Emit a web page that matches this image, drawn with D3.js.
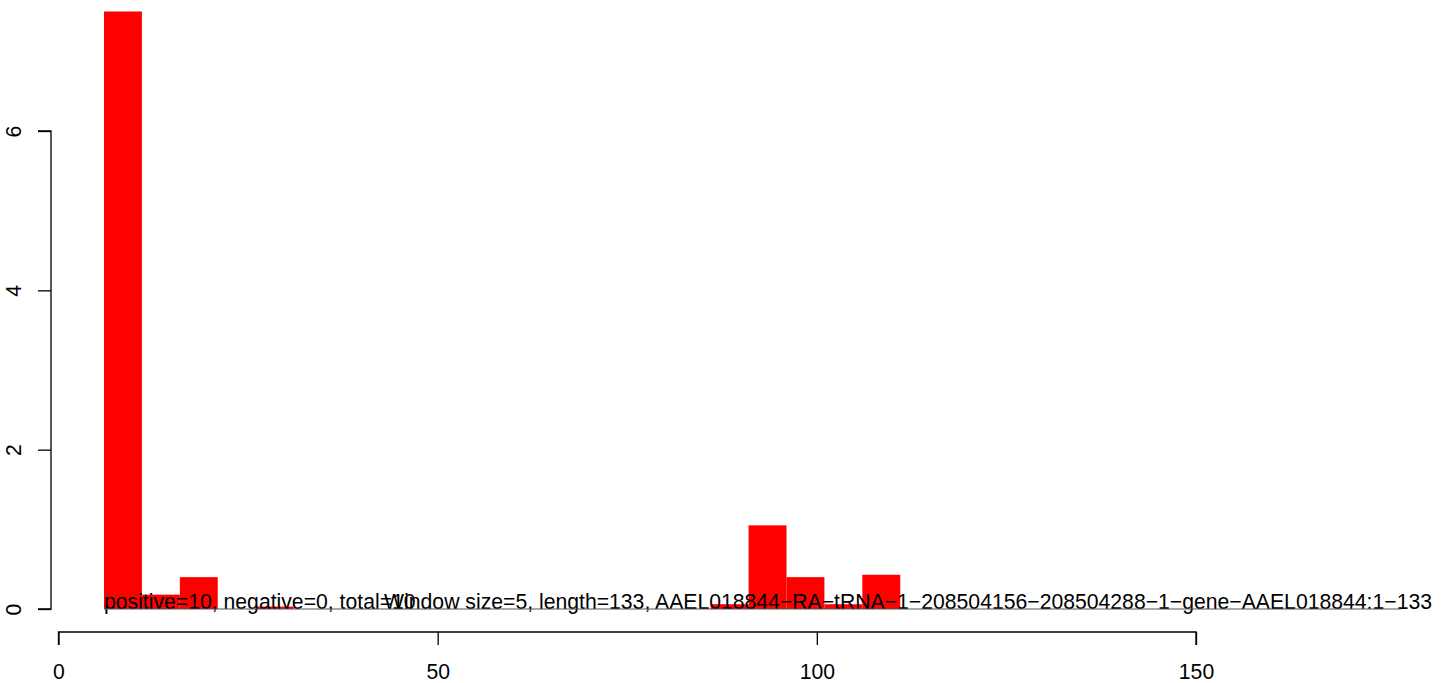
<!DOCTYPE html>
<html>
<head>
<meta charset="utf-8">
<script src="https://cdn.jsdelivr.net/npm/d3@7"></script>
<style>
  html, body { margin: 0; padding: 0; background: #fff; }
  svg { display: block; }
  text { font-family: "Liberation Sans", Arial, sans-serif; }
</style>
</head>
<body>
<script>
// ---- data ----
const binStart = 6;            // x position of first window
const binWidth = 5;            // window size
const values = [7.50, 0.18, 0.40, 0, 0.03, 0, 0, 0, 0, 0, 0, 0, 0, 0, 0, 0,
                0.06, 1.05, 0.40, 0.06, 0.43];
const xTicks = [0, 50, 100, 150];
const yTicks = [0, 2, 4, 6];
const baseLineEnd = 177;
const statText = "positive=10, negative=0, total=10";
const titleText = "Window size=5, length=133, AAEL018844\u2212RA\u2212tRNA\u22121\u2212208504156\u2212208504288\u22121\u2212gene\u2212AAEL018844:1\u2212133";

// ---- layout ----
const W = 1455, H = 683;
const FS = 21.2;
const svg = d3.select("body").append("svg").attr("width", W).attr("height", H);

const x = d3.scaleLinear().domain([0, 150]).range([58.5, 1196]);
const y = d3.scaleLinear().domain([0, 6]).range([609, 131]);

// bars
svg.append("g").selectAll("rect").data(values).enter().append("rect")
  .attr("x", (d, i) => x(binStart + i * binWidth))
  .attr("width", (d, i) => x(binStart + (i + 1) * binWidth) - x(binStart + i * binWidth))
  .attr("y", d => y(d))
  .attr("height", d => y(0) - y(d))
  .attr("fill", "#ff0000");

// x axis
const xAxis = d3.axisBottom(x).tickValues(xTicks).tickSize(13).tickPadding(19).tickFormat(d3.format("d"));
const gx = svg.append("g").attr("transform", "translate(0,632)").call(xAxis);
gx.select(".domain").attr("stroke", "#000").attr("stroke-width", 1.3).attr("d", `M${x(0)},13V0H${x(150)}V13`);
gx.selectAll(".tick line").attr("stroke", "#000").attr("stroke-width", 1.3);
gx.selectAll(".tick text").attr("font-size", FS).attr("fill", "#000")
  .attr("font-family", "'Liberation Sans', Arial, sans-serif");

// y axis
const yAxis = d3.axisLeft(y).tickValues(yTicks).tickSize(13).tickPadding(0).tickFormat(d3.format("d"));
const gy = svg.append("g").attr("transform", "translate(51,0)").call(yAxis);
gy.select(".domain").attr("stroke", "#000").attr("stroke-width", 1.3).attr("d", `M-13,${y(6)}H0V${y(0)}H-13`);
gy.selectAll(".tick line").attr("stroke", "#000").attr("stroke-width", 1.3);
gy.selectAll(".tick text")
  .attr("font-size", FS).attr("fill", "#000")
  .attr("font-family", "'Liberation Sans', Arial, sans-serif")
  .attr("x", null).attr("dy", null)
  .attr("text-anchor", "middle")
  .attr("transform", "translate(-30,0) rotate(-90)")
  .attr("y", 0)
  .attr("dy", "0");

// annotations
svg.append("text").attr("x", x(binStart)).attr("y", 609)
  .attr("font-size", FS).attr("fill", "#000").text(statText);
svg.append("text").attr("x", 1432).attr("y", 609).attr("text-anchor", "end")
  .attr("font-size", FS).attr("fill", "#000").text(titleText);

// baseline
svg.append("line")
  .attr("x1", x(binStart)).attr("x2", x(baseLineEnd))
  .attr("y1", y(0)).attr("y2", y(0))
  .attr("stroke", "#555").attr("stroke-width", 1.2);
</script>
</body>
</html>
